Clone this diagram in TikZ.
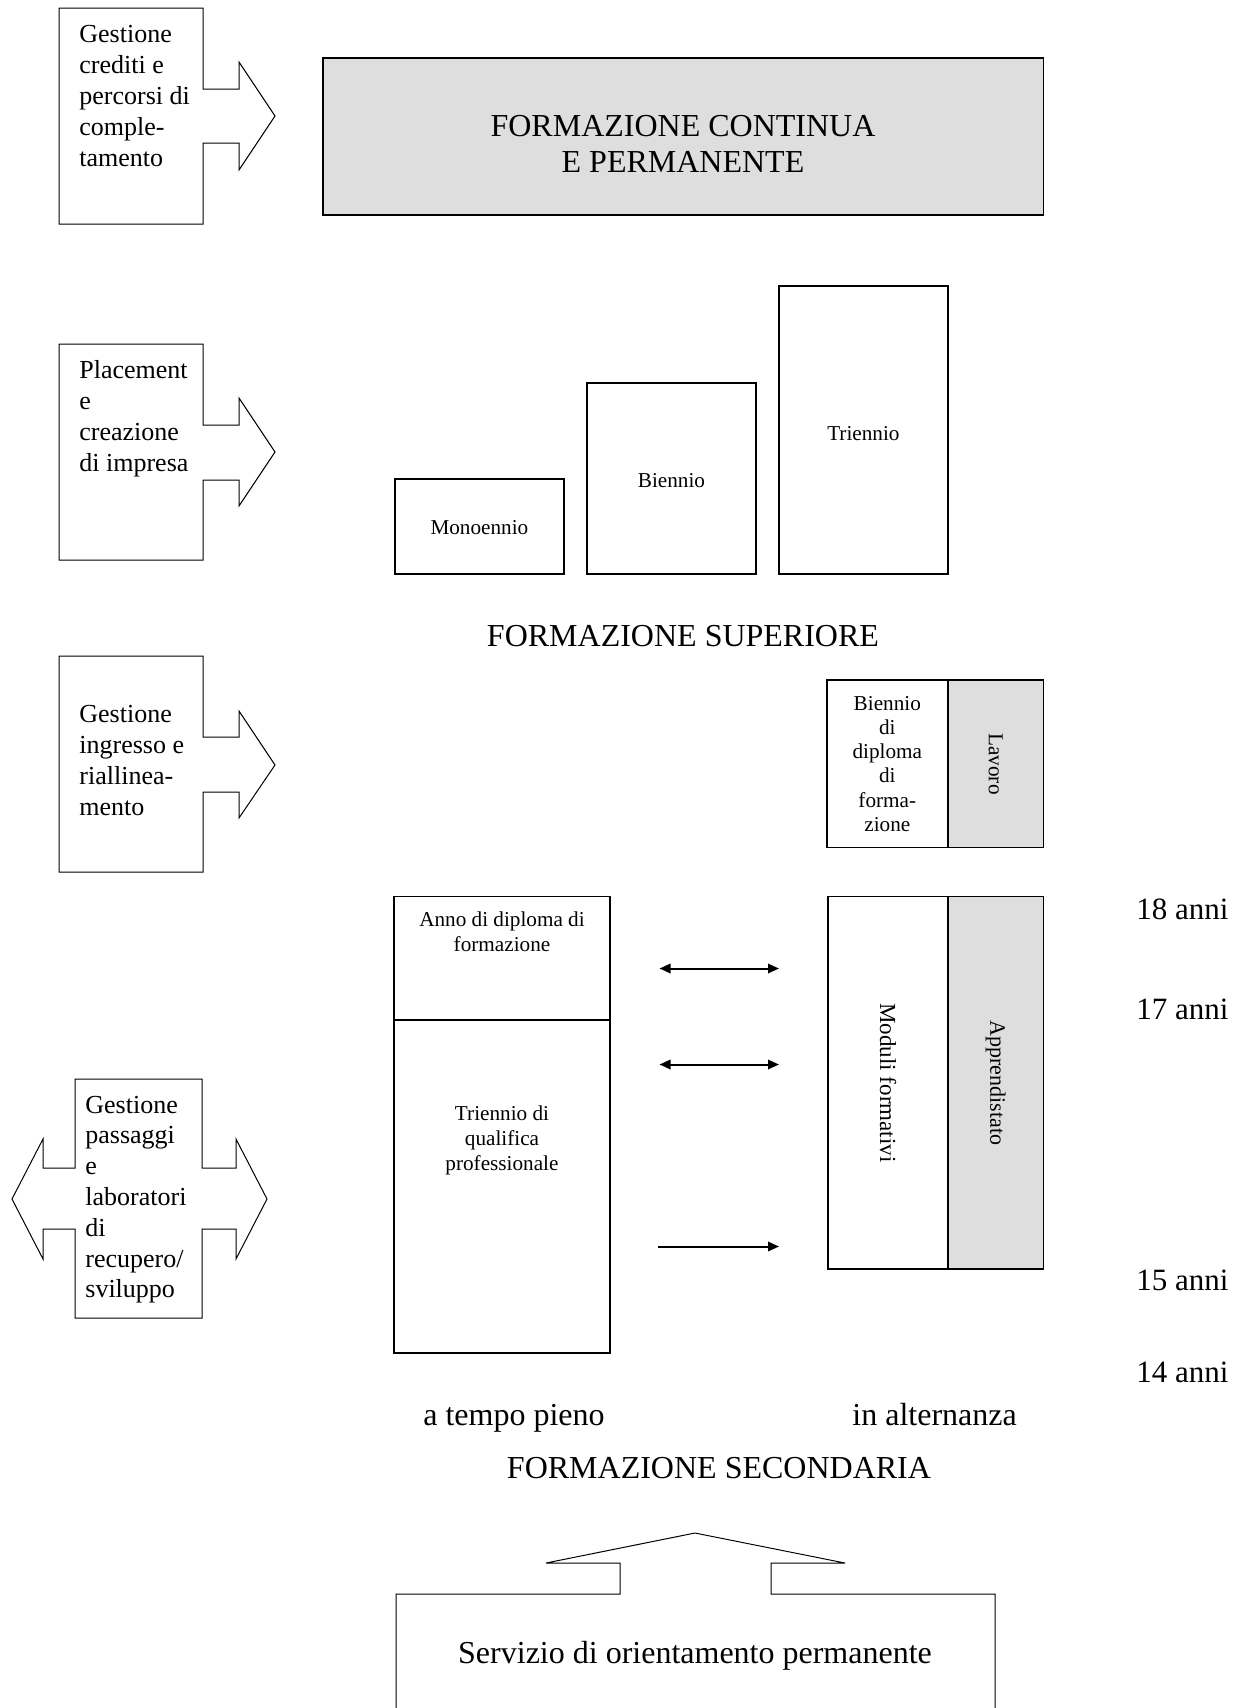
\documentclass[tikz,border=0pt]{standalone}
\usepackage{fontspec}
\setmainfont{Liberation Serif}
\usetikzlibrary{arrows.meta}
\definecolor{grayfill}{RGB}{222,222,222}
\newcommand{\txtL}[3]{\parbox[t]{160pt}{\raggedright\fontsize{#1}{#2}\selectfont #3}}
\newcommand{\txtC}[3]{\parbox[t]{300pt}{\centering\fontsize{#1}{#2}\selectfont #3}}
\begin{document}
\begin{tikzpicture}[x=0.5pt,y=-0.5pt,
  shapeline/.style={draw, line width=0.5pt},
  boxline/.style={draw, line width=0.9pt},
  shaded/.style={fill=grayfill},
  lbl/.style={inner sep=0pt},
  big/.style={font=\fontsize{16}{19}\selectfont},
  small/.style={font=\fontsize{10.6}{12.5}\selectfont},
  age/.style={font=\fontsize{15.5}{18}\selectfont},
  conn/.style={line width=1pt},
  >={Triangle[length=5.5pt,width=4.7pt]}]
\useasboundingbox (0,0) rectangle (1244,1708);

% ---- left block arrows ----
\draw[shapeline] (59,8) -- (203,8) -- (203,89) -- (239,89) -- (239,62) -- (275,116) -- (239,170) -- (239,143) -- (203,143) -- (203,224) -- (59,224) -- cycle;
\node[lbl, anchor=base west] (crediti) at (79,42) {\txtL{13}{15.5}{Gestione\\crediti e\\percorsi di\\comple-\\tamento}};

\draw[shapeline] (59,344) -- (203,344) -- (203,425) -- (239,425) -- (239,398) -- (275,452) -- (239,506) -- (239,480) -- (203,480) -- (203,560) -- (59,560) -- cycle;
\node[lbl, anchor=base west] (placement) at (79,378) {\txtL{13}{15.5}{Placement\\e\\creazione\\di impresa}};

\draw[shapeline] (59,656) -- (203,656) -- (203,737) -- (239,737) -- (239,711) -- (275,765) -- (239,818) -- (239,792) -- (203,792) -- (203,872) -- (59,872) -- cycle;
\node[lbl, anchor=base west] (ingresso) at (79,722) {\txtL{13}{15.5}{Gestione\\ingresso e\\riallinea-\\mento}};

\draw[shapeline] (75,1079) -- (202,1079) -- (202,1168) -- (236,1168) -- (236,1139) -- (267,1199) -- (236,1259) -- (236,1229) -- (202,1229) -- (202,1318) -- (75,1318) -- (75,1229) -- (43,1229) -- (43,1259) -- (12,1199) -- (43,1139) -- (43,1168) -- (75,1168) -- cycle;
\node[lbl, anchor=base west] (passaggi) at (85,1113) {\txtL{13}{15.4}{Gestione\\passaggi\\e\\laboratori\\di\\recupero/\\sviluppo}};

% ---- formazione continua ----
\draw[boxline, shaded] (323,58) rectangle (1043.5,215);
\node[lbl, anchor=base] (continua) at (683,136) {\txtC{16}{18.3}{FORMAZIONE CONTINUA\\E PERMANENTE}};

% ---- formazione superiore ----
\draw[boxline] (395,479) rectangle (563.7,574.3);
\node[lbl, small, anchor=base] (mono) at (479.4,534.3) {Monoennio};
\draw[boxline] (587.3,382.7) rectangle (755.7,574.3);
\node[lbl, small, anchor=base] (bien) at (671.5,487.3) {Biennio};
\draw[boxline] (779,286) rectangle (947.7,574.3);
\node[lbl, small, anchor=base] (trien) at (863.4,440.7) {Triennio};
\node[lbl, big, anchor=base] (superiore) at (683,646) {FORMAZIONE SUPERIORE};

% ---- biennio di diploma / lavoro ----
\draw[boxline] (827,680) rectangle (947.7,847.5);
\draw[boxline, shaded] (947.7,680) rectangle (1043.5,847.5);
\node[lbl, anchor=base] (biendip) at (887.3,710) {\txtC{10.6}{12.15}{Biennio\\di\\diploma\\di\\forma-\\zione}};
\node[lbl, small, rotate=-90] (lavoro) at (995.6,764) {Lavoro};

% ---- formazione secondaria ----
\draw[boxline] (394.3,896.5) rectangle (610,1353);
\draw[boxline] (394.3,1019.6) -- (610,1019.6);
\node[lbl, anchor=base] (anno) at (502,926.7) {\txtC{10.6}{12.5}{Anno di diploma di\\formazione}};
\node[lbl, anchor=base] (qualifica) at (502,1120) {\txtC{10.6}{12.5}{Triennio di\\qualifica\\professionale}};

\draw[boxline] (828,896.5) rectangle (947.7,1269);
\draw[boxline, shaded] (947.7,896.5) rectangle (1043.5,1269);
\node[lbl, rotate=-90, font=\fontsize{11.5}{13}\selectfont] (moduli) at (888,1083) {Moduli formativi};
\node[lbl, rotate=-90, font=\fontsize{11}{13}\selectfont] (appr) at (995.6,1083) {Apprendistato};

\coordinate (p1l) at (659.5,968.5);
\coordinate (p1r) at (779,968.5);
\coordinate (p2l) at (659.5,1064.5);
\coordinate (p2r) at (779,1064.5);
\coordinate (p3l) at (658,1246.5);
\coordinate (p3r) at (779,1246.5);
\draw[conn, <->] (p1l) -- (p1r);
\draw[conn, <->] (p2l) -- (p2r);
\draw[conn, ->] (p3l) -- (p3r);

\node[lbl, age, anchor=base west] (a18) at (1136,919) {18 anni};
\node[lbl, age, anchor=base west] (a17) at (1136,1019) {17 anni};
\node[lbl, age, anchor=base west] (a15) at (1136,1290) {15 anni};
\node[lbl, age, anchor=base west] (a14) at (1136,1382) {14 anni};

\node[lbl, big, anchor=base] (pieno) at (514,1425) {a tempo pieno};
\node[lbl, big, anchor=base] (altern) at (934.6,1425) {in alternanza};
\node[lbl, big, anchor=base] (secondaria) at (719,1478) {FORMAZIONE SECONDARIA};

% ---- servizio di orientamento ----
\draw[shapeline] (396,1712) -- (396,1594) -- (620,1594) -- (620,1563) -- (546,1563) -- (695,1533) -- (845,1563) -- (771,1563) -- (771,1594) -- (995,1594) -- (995,1712);
\node[lbl, big, anchor=base] (servizio) at (695,1663) {Servizio di orientamento permanente};
\end{tikzpicture}
\end{document}
